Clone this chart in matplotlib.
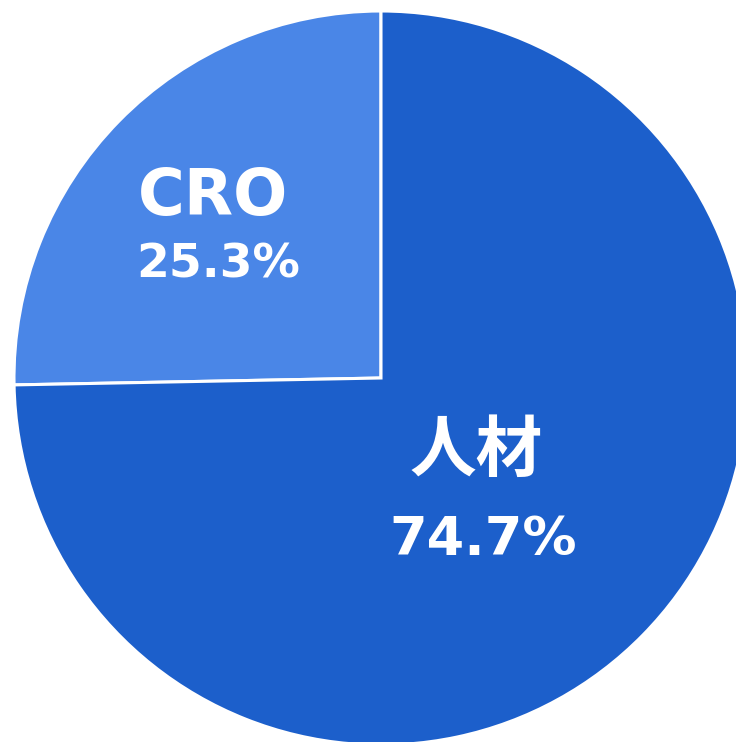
import matplotlib.pyplot as plt

plt.rcParams['font.family'] = ['DejaVu Sans', 'Noto Sans CJK JP']

#   data
labels = ['CRO', '人材']
shares = [25.3, 74.7]
colors = ['#4A86E7', '#1C5FCB']

#   label placement (data coords, pie radius = 1) and font sizes
name_pos = [(-0.458, 0.493), (0.259, -0.202)]
pct_pos = [(-0.444, 0.308), (0.278, -0.441)]
name_size = [46, 48]
pct_size = [34, 39]

fig = plt.figure(figsize=(7.36, 7.42), dpi=100)
ax = fig.add_axes([0, 0, 1, 1])

ax.pie(shares, colors=colors, startangle=90, counterclock=True,
       wedgeprops={'edgecolor': 'white', 'linewidth': 2.2})

for i in range(len(labels)):
    ax.text(name_pos[i][0], name_pos[i][1], labels[i], color='white',
            fontsize=name_size[i], fontweight='bold', ha='center', va='center')
    ax.text(pct_pos[i][0], pct_pos[i][1], '%.1f%%' % shares[i], color='white',
            fontsize=pct_size[i], fontweight='bold', ha='center', va='center')

#   centre at pixel (381, 378), radius 367 px
ax.set_xlim(-381 / 367, (736 - 381) / 367)
ax.set_ylim((378 - 742) / 367, 378 / 367)
ax.set_aspect('auto')
ax.axis('off')

fig.savefig('out.png', dpi=100)
